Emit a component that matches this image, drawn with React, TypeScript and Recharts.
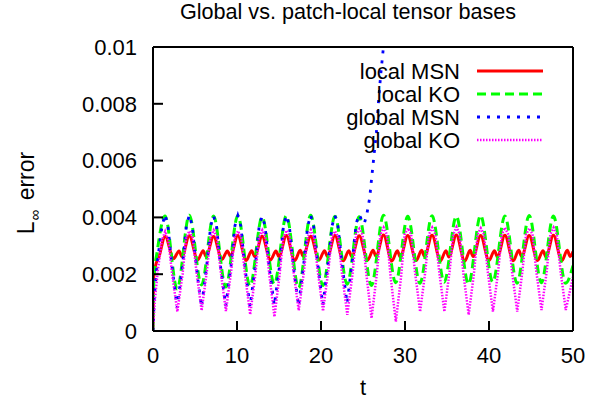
import React from "react";
import { LineChart, Line, XAxis, YAxis, Legend } from "recharts";

const FONT = "'Liberation Sans', Arial, Helvetica, sans-serif";

const X_TICKS = [0, 10, 20, 30, 40, 50];
const Y_TICKS = [0, 0.002, 0.004, 0.006, 0.008, 0.01];

// [t, L_inf error]
const localMSN: [number, number][] = [
  [0, 0], [0.06, 0.0018], [0.3, 0.0023], [0.7, 0.0026], [1.45, 0.00333],
  [2.45, 0.00255], [3.1, 0.00282], [3.45, 0.00262], [4.32, 0.00335],
  [5.32, 0.0025], [5.97, 0.00283], [6.32, 0.00262], [7.21, 0.00333],
  [8.21, 0.00252], [8.86, 0.00282], [9.21, 0.00263], [10.1, 0.00336],
  [11.1, 0.00248], [11.75, 0.00283], [12.1, 0.00262], [12.99, 0.00334],
  [13.99, 0.0025], [14.64, 0.00282], [14.99, 0.00262], [15.88, 0.00336],
  [16.88, 0.00248], [17.53, 0.00284], [17.88, 0.00263], [18.77, 0.00334],
  [19.77, 0.0025], [20.42, 0.00283], [20.77, 0.00262], [21.66, 0.00336],
  [22.66, 0.00247], [23.31, 0.00283], [23.66, 0.00262], [24.55, 0.00335],
  [25.55, 0.0025], [26.2, 0.00284], [26.55, 0.00263], [27.44, 0.00338],
  [28.44, 0.00246], [29.09, 0.00283], [29.44, 0.0026], [30.33, 0.00336],
  [31.33, 0.00248], [31.98, 0.00284], [32.33, 0.00262], [33.22, 0.00337],
  [34.22, 0.00247], [34.87, 0.00283], [35.22, 0.00261], [36.11, 0.00338],
  [37.11, 0.00246], [37.76, 0.00284], [38.11, 0.00262], [39.0, 0.00336],
  [40.0, 0.00248], [40.65, 0.00283], [41.0, 0.00261], [41.89, 0.00337],
  [42.89, 0.00247], [43.54, 0.00284], [43.89, 0.00262], [44.78, 0.00336],
  [45.78, 0.00248], [46.43, 0.00283], [46.78, 0.00261], [47.67, 0.00337],
  [48.67, 0.00247], [49.32, 0.00284], [49.67, 0.00262], [50, 0.0028],
];

const localKO: [number, number][] = [
  [0, 0], [0.12, 0.0019], [0.5, 0.0028], [1.43, 0.00405],
  [2.88, 0.00148], [4.32, 0.00408], [5.77, 0.00162], [7.21, 0.00405],
  [8.66, 0.00155], [10.1, 0.00407], [11.55, 0.00158], [12.99, 0.00402],
  [14.44, 0.00165], [15.88, 0.00406], [17.33, 0.00152], [18.77, 0.00408],
  [20.22, 0.0016], [21.66, 0.00404], [23.11, 0.00165], [24.55, 0.00402],
  [26.0, 0.0016], [27.44, 0.00408], [28.89, 0.0017], [30.33, 0.00404],
  [31.78, 0.00168], [33.22, 0.00406], [34.67, 0.00172], [36.11, 0.00404],
  [37.56, 0.00165], [39.0, 0.00407], [40.45, 0.00172], [41.89, 0.00405],
  [43.34, 0.00168], [44.78, 0.00407], [46.23, 0.0017], [47.67, 0.00405],
  [49.12, 0.00168], [50, 0.0023],
];

const globalMSN: [number, number][] = [
  [0, 0], [0.15, 0.0012], [0.5, 0.0024], [1.08, 0.0037], [1.43, 0.0041],
  [1.78, 0.0037], [2.25, 0.0023], [2.88, 0.00082], [3.51, 0.0023],
  [3.97, 0.0037], [4.32, 0.00408], [4.67, 0.0037], [5.14, 0.0023], [5.77, 0.00085], [6.4, 0.0023],
  [6.86, 0.0037], [7.21, 0.00405], [7.56, 0.0037], [8.03, 0.0023], [8.66, 0.00088], [9.29, 0.0023],
  [9.75, 0.0037], [10.1, 0.00406], [10.45, 0.0037], [10.92, 0.0023], [11.55, 0.00086], [12.18, 0.0023],
  [12.64, 0.0037], [12.99, 0.00404], [13.34, 0.0037], [13.81, 0.0023], [14.44, 0.0009], [15.07, 0.0023],
  [15.53, 0.0037], [15.88, 0.00407], [16.23, 0.0037], [16.7, 0.0023], [17.33, 0.00088], [17.96, 0.0024],
  [18.42, 0.0037], [18.77, 0.00408], [19.12, 0.0037], [19.59, 0.0024], [20.22, 0.00092], [20.85, 0.0024],
  [21.31, 0.0037], [21.66, 0.00406], [22.01, 0.0037], [22.48, 0.0024], [23.11, 0.00098], [23.74, 0.0025],
  [24.2, 0.0038], [24.55, 0.0041], [24.85, 0.0039], [25.15, 0.00378], [25.45, 0.0041],
  [25.8, 0.0047], [26.0, 0.0053], [26.35, 0.0063], [26.6, 0.007], [26.85, 0.0081],
  [27.1, 0.009], [27.4, 0.0099], [27.7, 0.0108],
];

const globalKO: [number, number][] = [
  [0, 0], [0.2, 0.001], [0.6, 0.0022], [1.06, 0.0032], [1.45, 0.0035],
  [1.82, 0.0032], [2.28, 0.002], [2.9, 0.00068], [3.52, 0.002],
  [3.95, 0.0033], [4.34, 0.00352], [4.72, 0.0033], [5.17, 0.0021], [5.79, 0.00072], [6.41, 0.0021],
  [6.84, 0.0033], [7.23, 0.00355], [7.61, 0.0033], [8.06, 0.0021], [8.68, 0.0007], [9.3, 0.0021],
  [9.73, 0.0033], [10.12, 0.00352], [10.5, 0.0033], [10.95, 0.002], [11.57, 0.00058], [12.19, 0.002],
  [12.62, 0.0033], [13.01, 0.00355], [13.39, 0.0033], [13.84, 0.002], [14.46, 0.0005], [15.08, 0.002],
  [15.51, 0.0033], [15.9, 0.00354], [16.28, 0.0033], [16.73, 0.0021], [17.35, 0.00072], [17.97, 0.0021],
  [18.4, 0.0033], [18.79, 0.00356], [19.17, 0.0033], [19.62, 0.0021], [20.24, 0.0007], [20.86, 0.0021],
  [21.29, 0.0033], [21.68, 0.00352], [22.06, 0.0033], [22.51, 0.002], [23.13, 0.00057], [23.75, 0.002],
  [24.18, 0.0034], [24.57, 0.0036], [24.95, 0.0034], [25.4, 0.002], [26.02, 0.00045], [26.64, 0.002],
  [27.07, 0.0034], [27.46, 0.00364], [27.84, 0.0034], [28.29, 0.0019], [28.91, 0.00033], [29.53, 0.0019],
  [29.96, 0.0034], [30.35, 0.00362], [30.73, 0.0034], [31.18, 0.0021], [31.8, 0.00068], [32.42, 0.0021],
  [32.85, 0.0034], [33.24, 0.00364], [33.62, 0.0034], [34.07, 0.0021], [34.69, 0.00068], [35.31, 0.0021],
  [35.74, 0.0034], [36.13, 0.00366], [36.51, 0.0034], [36.96, 0.002], [37.58, 0.00057], [38.2, 0.002],
  [38.63, 0.0034], [39.02, 0.00362], [39.4, 0.0034], [39.85, 0.0021], [40.47, 0.00068], [41.09, 0.0021],
  [41.52, 0.0034], [41.91, 0.00364], [42.29, 0.0034], [42.74, 0.0021], [43.36, 0.00068], [43.98, 0.0021],
  [44.41, 0.0034], [44.8, 0.00362], [45.18, 0.0034], [45.63, 0.0021], [46.25, 0.00074], [46.87, 0.0021],
  [47.3, 0.0034], [47.69, 0.00364], [48.07, 0.0034], [48.52, 0.0021], [49.14, 0.00074], [50, 0.0019],
];

const toRows = (pts: [number, number][]) => pts.map(([t, v]) => ({ t, v }));

const SERIES = [
  { name: "local MSN", data: localMSN, color: "#ff0000", dash: undefined, width: 3, curve: "monotone" },
  { name: "local KO", data: localKO, color: "#00ff00", dash: "9 5", width: 3, curve: "monotone" },
  { name: "global MSN", data: globalMSN, color: "#0000ff", dash: "3 7", width: 2.8, curve: "linear" },
  { name: "global KO", data: globalKO, color: "#ff00ff", dash: "1.5 1.5", width: 2.5, curve: "linear" },
] as const;

const tickStyle = { fill: "#000", fontSize: 22, fontFamily: FONT };

function LegendBox() {
  return (
    <svg width={260} height={100} style={{ display: "block" }}>
      {SERIES.map((s, i) => {
        const y = 16 + i * 23;
        return (
          <g key={s.name}>
            <text x={130} y={y} dy="0.35em" textAnchor="end" fontSize={22} fontFamily={FONT} fill="#000">
              {s.name}
            </text>
            <line x1={147} x2={213} y1={y} y2={y} stroke={s.color} strokeWidth={s.width} strokeDasharray={s.dash} />
          </g>
        );
      })}
    </svg>
  );
}

export default function App() {
  return (
    <div style={{ position: "relative", width: 616, height: 408, background: "#fff", fontFamily: FONT }}>
      <style>{"body{margin:0}"}</style>
      <div style={{ position: "absolute", left: 0, width: 616, top: 0, textAlign: "center", fontSize: 21.6, lineHeight: "24px", paddingLeft: 80, boxSizing: "border-box" }}>
        Global vs. patch-local tensor bases
      </div>
      <LineChart width={616} height={408} margin={{ top: 0, right: 0, bottom: 0, left: 0 }}>
        <XAxis
          xAxisId="b"
          dataKey="t"
          type="number"
          domain={[0, 50]}
          ticks={X_TICKS}
          height={77}
          tick={tickStyle}
          tickSize={-10}
          tickMargin={26}
          stroke="#000"
          strokeWidth={2}
          allowDataOverflow
        />
        <XAxis
          xAxisId="top"
          orientation="top"
          dataKey="t"
          type="number"
          domain={[0, 50]}
          ticks={X_TICKS}
          height={47}
          tickFormatter={() => ""}
          tickSize={-10}
          stroke="#000"
          strokeWidth={2}
        />
        <YAxis
          yAxisId="l"
          type="number"
          domain={[0, 0.01]}
          ticks={Y_TICKS}
          width={153}
          tick={tickStyle}
          tickSize={-10}
          tickMargin={26}
          tickFormatter={(v: number) => String(v)}
          stroke="#000"
          strokeWidth={2}
          allowDataOverflow
        />
        <YAxis
          yAxisId="r"
          orientation="right"
          type="number"
          domain={[0, 0.01]}
          ticks={Y_TICKS}
          width={43}
          tickFormatter={() => ""}
          tickSize={-10}
          stroke="#000"
          strokeWidth={2}
        />
        {SERIES.map((s) => (
          <Line
            key={s.name}
            xAxisId="b"
            yAxisId="l"
            data={toRows(s.data)}
            dataKey="v"
            name={s.name}
            type={s.curve}
            stroke={s.color}
            strokeWidth={s.width}
            strokeDasharray={s.dash}
            dot={false}
            activeDot={false}
            isAnimationActive={false}
          />
        ))}
        <Legend
          layout="vertical"
          align="center"
          verticalAlign="middle"
          content={() => <LegendBox />}
          wrapperStyle={{ left: 330, top: 55, width: 260, height: 100 }}
        />
      </LineChart>
      <div
        style={{
          position: "absolute",
          left: 28,
          top: 193,
          transform: "translate(-50%, -50%) rotate(-90deg)",
          whiteSpace: "nowrap",
          fontSize: 23,
        }}
      >
        L<sub style={{ fontSize: 15, marginLeft: 1, marginRight: 3 }}>∞</sub> error
      </div>
      <div style={{ position: "absolute", left: 363, top: 376, transform: "translateX(-50%)", fontSize: 22, lineHeight: "24px" }}>
        t
      </div>
    </div>
  );
}
